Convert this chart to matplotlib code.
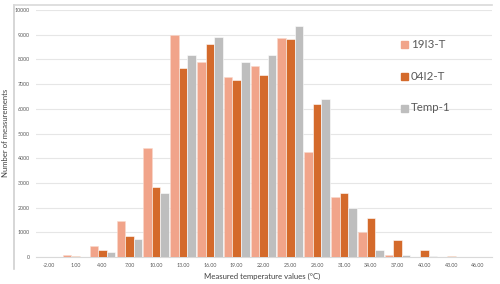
import numpy as np
import matplotlib.pyplot as plt
from matplotlib.lines import Line2D

plt.rcParams['font.family'] = ['Lato', 'DejaVu Sans']

categories = ['-2.00', '1.00', '4.00', '7.00', '10.00', '13.00', '16.00', '19.00', '22.00',
              '25.00', '28.00', '31.00', '34.00', '37.00', '40.00', '43.00', '46.00']
s19i3 = [0, 100, 430, 1450, 4410, 9000, 7880, 7270, 7740, 8850, 4270, 2420, 1000, 100, 20, 10, 0]
s04i2 = [0, 60, 270, 830, 2840, 7640, 8610, 7160, 7350, 8820, 6200, 2580, 1560, 690, 300, 30, 0]
temp1 = [0, 10, 200, 730, 2610, 8180, 8920, 7890, 8180, 9360, 6390, 2000, 280, 70, 30, 10, 0]
names = ['19I3-T', '04I2-T', 'Temp-1']
colors = ['#F1A48A', '#D46A2B', '#BEBEBE']

fig = plt.figure(figsize=(5, 2.84), dpi=100)
ax = fig.add_axes([35.5 / 500, 1 - 257 / 284, 456 / 500, 247 / 284])

x = np.arange(len(categories))
w = 0.32
for i, (vals, name, c) in enumerate(zip([s19i3, s04i2, temp1], names, colors)):
    ax.bar(x + (i - 1) * w, vals, width=w, color=c, edgecolor='#FAD9CC' if i == 0 else 'white',
           linewidth=0.4, label=name, zorder=3)

ax.set_xlim(-0.5, len(categories) - 0.5)
ax.set_ylim(0, 10000)
ax.set_yticks(range(0, 10001, 1000))
ax.set_xticks(x)
ax.set_xticklabels(categories)
ax.tick_params(axis='both', labelsize=3.8, colors='#595959', length=0, pad=4)
ax.grid(axis='y', color='#E6E6E6', linewidth=0.8, zorder=0)
for s in ['top', 'right', 'left']:
    ax.spines[s].set_visible(False)
ax.spines['bottom'].set_color('#D9D9D9')
ax.spines['bottom'].set_linewidth(0.8)

fig.text(6 / 500, 1 - 133 / 284, 'Number of measurements', rotation=90, ha='center', va='center',
         fontsize=5.6, color='#404040')
fig.text(262 / 500, 1 - 276 / 284, 'Measured temperature values (°C)', ha='center', va='center',
         fontsize=5.6, color='#404040')

# legend entries
for k, (name, c) in enumerate(zip(names, colors)):
    yy = 1 - (44 + k * 32) / 284
    fig.patches.append(plt.Rectangle((401 / 500, yy - 3.5 / 284), 6.5 / 500, 7 / 284,
                                     transform=fig.transFigure, color=c, figure=fig))
    fig.text(411 / 500, yy, name, ha='left', va='center', fontsize=8.3, color='#595959')

# chart frame (left and top)
fig.add_artist(Line2D([14 / 500, 14 / 500], [1 - 5 / 284, 1 - 269 / 284], color='#D0D0D0', lw=1.2))
fig.add_artist(Line2D([14 / 500, 492 / 500], [1 - 5 / 284, 1 - 5 / 284], color='#D9D9D9', lw=1.2))

fig.savefig('out.png', dpi=100)
